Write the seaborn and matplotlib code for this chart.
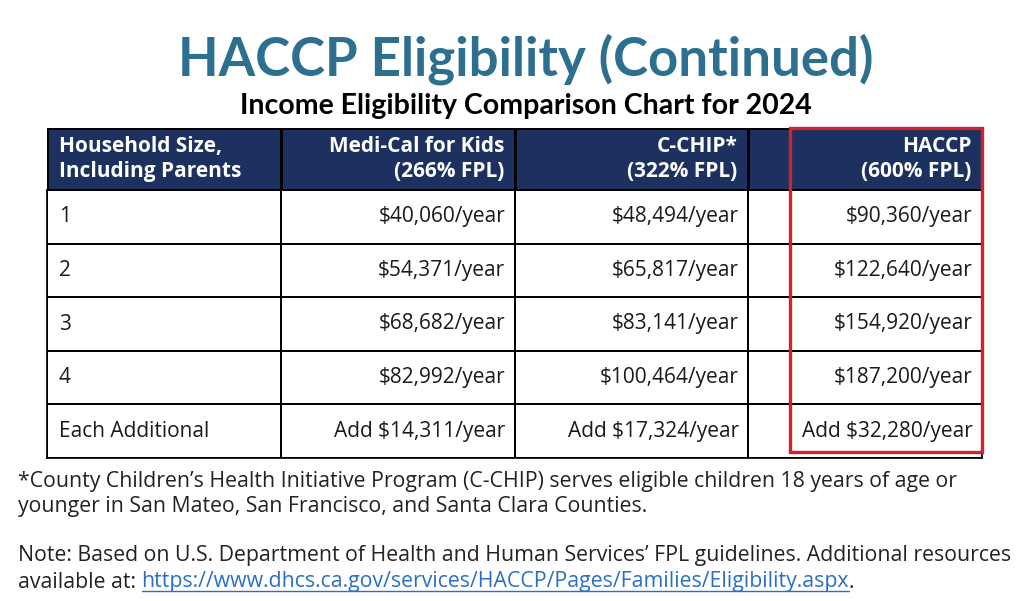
"""Income eligibility comparison table (HACCP / Medi-Cal for Kids / C-CHIP), 2024."""
import matplotlib.pyplot as plt
import numpy as np
import seaborn as sns
from matplotlib.colors import ListedColormap
from matplotlib.lines import Line2D
from matplotlib.patches import Rectangle

TITLE = "HACCP Eligibility (Continued)"
SUBTITLE = "Income Eligibility Comparison Chart for 2024"
COLUMNS = [
    "Household Size,\nIncluding Parents",
    "Medi-Cal for Kids\n(266% FPL)",
    "C-CHIP*\n(322% FPL)",
    "HACCP\n(600% FPL)",
]
HOUSEHOLD = ["1", "2", "3", "4", "Each Additional"]
MEDI_CAL = [40060, 54371, 68682, 82992, 14311]
CCHIP = [48494, 65817, 83141, 100464, 17324]
HACCP = [90360, 122640, 154920, 187200, 32280]
FOOTNOTE = ("*County Children\u2019s Health Initiative Program (C-CHIP) serves eligible children 18 years of age or\n"
            "younger in San Mateo, San Francisco, and Santa Clara Counties.")
NOTE = "Note: Based on U.S. Department of Health and Human Services\u2019 FPL guidelines. Additional resources"
NOTE2 = "available at: "
LINK = "https://www.dhcs.ca.gov/services/HACCP/Pages/Families/Eligibility.aspx"

NAVY = "#1c3160"
TEAL = "#2d6f8e"
RED = "#d1232c"
LINKBLUE = "#2a6fc4"
FONT = ["Open Sans", "DejaVu Sans"]
TITLE_FONT = ["Lato", "DejaVu Sans"]


def fmt(v, extra=False):
    s = f"${v:,}/year"
    return f"Add {s}" if extra else s


def main() -> None:
    sns.set_theme(style="white")
    plt.rcParams["font.family"] = FONT

    fig = plt.figure(figsize=(10.24, 6.01), dpi=100)
    W, H = 1024, 601

    def px(x0, y0, x1, y1):
        return [x0 / W, 1 - y1 / H, (x1 - x0) / W, (y1 - y0) / H]

    fig.text(526 / W, 1 - 59 / H, TITLE, ha="center", va="center", fontsize=38,
             fontweight="bold", color=TEAL, family=TITLE_FONT)
    fig.text(526 / W, 1 - 106 / H, SUBTITLE, ha="center", va="center", fontsize=20.5,
             fontweight="bold", color="black", family=TITLE_FONT)

    ncol = len(COLUMNS)
    rows = [[h, fmt(a, i == 4), fmt(b, i == 4), fmt(c, i == 4)]
            for i, (h, a, b, c) in enumerate(zip(HOUSEHOLD, MEDI_CAL, CCHIP, HACCP))]

    # header row
    axh = fig.add_axes(px(47, 128, 982, 190))
    sns.heatmap(np.ones((1, ncol)), ax=axh, cmap=ListedColormap([NAVY]), cbar=False,
                linewidths=1.0, linecolor="black", xticklabels=False, yticklabels=False)
    for j, lab in enumerate(COLUMNS):
        if j == 0:
            axh.text(j + 0.05, 0.5, lab, ha="left", va="center", color="white",
                     fontsize=15, fontweight="bold", linespacing=1.25)
        else:
            axh.text(j + 0.955, 0.5, lab, ha="right", va="center", color="white",
                     fontsize=15, fontweight="bold", linespacing=1.25)

    # body rows
    axb = fig.add_axes(px(47, 190, 982, 458))
    sns.heatmap(np.zeros((len(rows), ncol)), ax=axb, cmap=ListedColormap(["white"]), cbar=False,
                linewidths=1.2, linecolor="black", xticklabels=False, yticklabels=False)
    for s in axb.spines.values():
        s.set_visible(True)
        s.set_color("black")
        s.set_linewidth(1.2)
    for i, row in enumerate(rows):
        for j, val in enumerate(row):
            if j == 0:
                axb.text(j + 0.05, i + 0.5, val, ha="left", va="center",
                         fontsize=15, color="#1a1a1a")
            else:
                axb.text(j + 0.96, i + 0.5, val, ha="right", va="center",
                         fontsize=15, color="#1a1a1a")

    # red highlight around HACCP column
    fig.patches.append(Rectangle((790 / W, 1 - 452 / H), 192 / W, 324 / H,
                                 transform=fig.transFigure, fill=False,
                                 edgecolor=RED, linewidth=2.4, zorder=10))

    fs = 15.3
    fig.text(18 / W, 1 - 494 / H, FOOTNOTE, ha="left", va="center", fontsize=fs,
             color="#222222", linespacing=1.3)
    fig.text(18 / W, 1 - 556 / H, NOTE, ha="left", va="center", fontsize=fs,
             color="#222222")
    t2 = fig.text(18 / W, 1 - 582 / H, NOTE2, ha="left", va="center", fontsize=fs,
                  color="#222222")

    fig.canvas.draw()
    r = fig.canvas.get_renderer()
    bb = t2.get_window_extent(r)
    link = fig.text(bb.x1 / W, 1 - 582 / H, LINK, ha="left", va="center", fontsize=fs,
                    color=LINKBLUE)
    fig.canvas.draw()
    lb = link.get_window_extent(r)
    lb_f = lb.transformed(fig.transFigure.inverted())
    fig.lines.append(Line2D([lb_f.x0, lb_f.x1], [lb_f.y0 + 2 / H, lb_f.y0 + 2 / H],
                            transform=fig.transFigure, color=LINKBLUE, linewidth=1.0))
    fig.text(lb.x1 / W, 1 - 582 / H, ".", ha="left", va="center", fontsize=fs,
             color="#222222")

    fig.savefig("out.png", dpi=100, facecolor="white")
    plt.close(fig)


if __name__ == "__main__":
    main()
